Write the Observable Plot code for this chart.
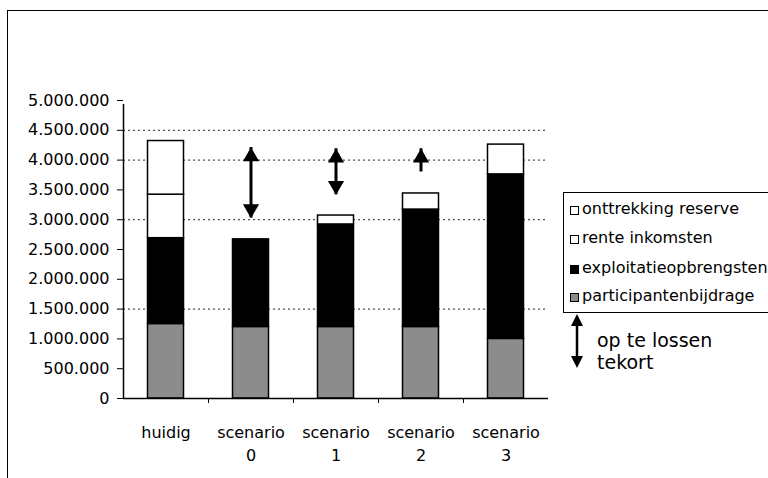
<!DOCTYPE html>
<html><head><meta charset="utf-8">
<script src="https://cdn.jsdelivr.net/npm/d3@7"></script>
<script src="https://cdn.jsdelivr.net/npm/@observablehq/plot@0.6"></script>
<style>
html,body{margin:0;padding:0;background:#fff;overflow:hidden;width:768px;height:478px;}
#wrap{position:relative;width:768px;height:478px;font-family:"DejaVu Sans",sans-serif;color:#000;overflow:hidden;}
#frame{position:absolute;left:7px;top:10px;width:900px;height:600px;border:1.5px solid #000;box-sizing:border-box;}
#chart{position:absolute;left:0;top:0;}
#legend{position:absolute;left:563px;top:192px;width:300px;height:121px;border:1px solid #000;box-sizing:border-box;background:#fff;}
.item{position:absolute;left:6px;font-size:16px;line-height:18px;white-space:nowrap;}
.sw{display:inline-block;width:9px;height:9px;border:1px solid #000;box-sizing:border-box;margin-right:3px;vertical-align:-1px;}
#tek{position:absolute;left:597px;top:329px;font-size:19px;line-height:22px;}
#tekarrow{position:absolute;left:570px;top:314px;}
</style>
</head><body>
<div id="wrap">
  <div id="frame"></div>
  <div id="chart"></div>
  <div id="legend"></div>
  <svg id="tekarrow" width="16" height="54"></svg>
  <div id="tek"></div>
</div>
<script>
const categories = ["huidig", "scenario 0", "scenario 1", "scenario 2", "scenario 3"];
const seriesNames = ["participantenbijdrage", "exploitatieopbrengsten", "rente inkomsten", "onttrekking reserve"];
const seriesColors = ["#8c8c8c", "#000000", "#ffffff", "#ffffff"];
const participantenbijdrage = [1250000, 1200000, 1200000, 1200000, 1000000];
const exploitatieopbrengsten = [1440000, 1470000, 1720000, 1970000, 2760000];
const renteInkomsten = [730000, 0, 150000, 270000, 500000];
const onttrekkingReserve = [900000, 0, 0, 0, 0];
const yTicks = [0, 500000, 1000000, 1500000, 2000000, 2500000, 3000000, 3500000, 4000000, 4500000, 5000000];
const gridValues = [1500000, 3000000, 4000000, 4500000];
const arrowCats = ["scenario 0", "scenario 1", "scenario 2"];
const arrowTop = [4210000, 4190000, 4190000];
const arrowBottom = [3030000, 3420000, 3800000];
const arrowBottomHead = [true, true, false];
const legendOrder = ["onttrekking reserve", "rente inkomsten", "exploitatieopbrengsten", "participantenbijdrage"];
const deficitLines = ["op te lossen", "tekort"];

const seriesValues = [participantenbijdrage, exploitatieopbrengsten, renteInkomsten, onttrekkingReserve];
const rows = [];
categories.forEach((c, i) => {
  seriesNames.forEach((s, j) => {
    if (seriesValues[j][i] > 0) rows.push({cat: c, series: s, value: seriesValues[j][i]});
  });
});
const arrows = arrowCats.map((c, i) => ({cat: c, top: arrowTop[i], bottom: arrowBottom[i], bottomHead: arrowBottomHead[i]}));

const fmt = d3.formatLocale({thousands: ".", grouping: [3], decimal: ",", currency: ["", ""]}).format(",d");
const yMax = yTicks[yTicks.length - 1];

const chart = Plot.plot({
  width: 768, height: 478,
  marginLeft: 123, marginRight: 220, marginTop: 100, marginBottom: 80,
  style: {fontFamily: "DejaVu Sans", fontSize: "16px", color: "#000", background: "transparent"},
  x: {domain: categories, padding: 0, label: null},
  y: {domain: [0, yMax], label: null},
  color: {domain: seriesNames, range: seriesColors},
  marks: [
    Plot.ruleY(gridValues, {stroke: "#000", strokeDasharray: "2,3", strokeWidth: 1, strokeOpacity: 0.85}),
    Plot.barY(rows, {x: "cat", y: "value", z: "series", fill: "series", stroke: "#000", strokeWidth: 1.5, insetLeft: 24.5, insetRight: 24.5}),
    Plot.ruleX(arrows, {x: "cat", y1: "bottom", y2: "top", stroke: "#000", strokeWidth: 3}),
    Plot.dot(arrows, {x: "cat", y: "top", symbol: "triangle", r: 6, fill: "#000", stroke: "none", dy: 9}),
    Plot.dot(arrows.filter(d => d.bottomHead), {x: "cat", y: "bottom", symbol: "triangle", r: 6, fill: "#000", stroke: "none", dy: -9, rotate: 180}),
    Plot.axisY({ticks: yTicks, tickFormat: fmt, tickSize: 6, tickPadding: 8, fontSize: 16, label: null}),
    Plot.axisX({tickSize: 0, tickPadding: 23, tickFormat: d => d.replace(" ", "\n"), lineHeight: 1.45, fontSize: 16, label: null}),
    Plot.ruleX([categories[0]], {x: d => d, y1: () => 0, y2: () => yMax, insetBottom: -4, dx: -42.5, stroke: "#000", strokeWidth: 1.5}),
    Plot.ruleY([0], {stroke: "#000", strokeWidth: 1.5}),
    Plot.ruleX(categories.slice(1), {x: d => d, y1: () => 0, y2: () => 0, insetBottom: -5, dx: -42.5, stroke: "#000"})
  ]
});
document.getElementById("chart").appendChild(chart);

// legend
const legend = document.getElementById("legend");
const tops = [7, 36, 66, 94];
legendOrder.forEach((s, i) => {
  const it = document.createElement("div");
  it.className = "item";
  it.style.top = tops[i] + "px";
  const sw = document.createElement("span");
  sw.className = "sw";
  sw.style.background = seriesColors[seriesNames.indexOf(s)];
  it.appendChild(sw);
  it.appendChild(document.createTextNode(s));
  legend.appendChild(it);
});

// deficit legend
const tek = document.getElementById("tek");
tek.innerHTML = deficitLines.join("<br>");
const ta = d3.select("#tekarrow");
ta.append("line").attr("x1", 7).attr("x2", 7).attr("y1", 8).attr("y2", 46).attr("stroke", "#000").attr("stroke-width", 2.5);
ta.append("path").attr("d", "M7,0 L13,12 L1,12 Z").attr("fill", "#000");
ta.append("path").attr("d", "M7,54 L13,42 L1,42 Z").attr("fill", "#000");
</script>
</body></html>
